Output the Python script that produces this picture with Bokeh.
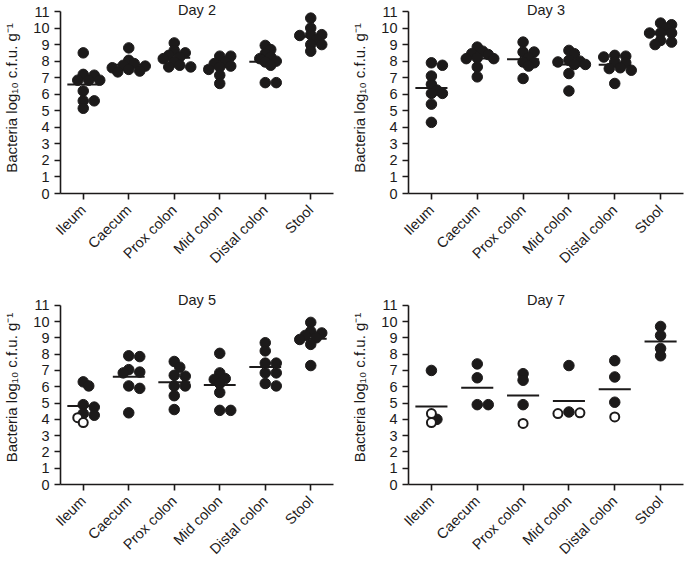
import math
import numpy as np
from bokeh.plotting import figure
from bokeh.models import Range1d, FixedTicker, Label
from bokeh.layouts import column, row
from bokeh.embed import file_html
from bokeh.resources import INLINE

categories = ["Ileum", "Caecum", "Prox colon", "Mid colon", "Distal colon", "Stool"]
y_ticks = list(range(0, 12))
y_label = "Bacteria log\u2081\u2080 c.f.u. g\u207b\u00b9"

# filled symbols (detected) per category
day2_filled = [
    [8.5, 7.2, 7.15, 6.85, 6.85, 6.85, 6.2, 5.6, 5.6, 5.15],
    [8.8, 8.05, 7.85, 7.75, 7.7, 7.6, 7.5, 7.4, 7.35],
    [9.1, 8.65, 8.5, 8.35, 8.25, 8.15, 7.95, 7.75, 7.65, 7.65],
    [8.3, 8.3, 7.95, 7.85, 7.7, 7.65, 7.5, 7.15, 6.65],
    [8.95, 8.7, 8.45, 8.25, 8.15, 8.0, 7.95, 7.75, 6.7, 6.7],
    [10.6, 10.0, 9.6, 9.6, 9.55, 9.3, 9.0, 9.0, 8.6],
]
day2_open = [[], [], [], [], [], []]

day3_filled = [
    [7.9, 7.75, 7.1, 6.6, 6.25, 6.05, 6.05, 5.4, 4.3],
    [8.85, 8.6, 8.45, 8.4, 8.2, 8.15, 8.15, 7.65, 7.05],
    [9.15, 8.55, 8.55, 8.2, 7.95, 7.9, 7.7, 6.95],
    [8.65, 8.45, 8.05, 8.0, 7.95, 7.8, 7.8, 7.25, 6.2],
    [8.35, 8.3, 8.25, 7.95, 7.9, 7.6, 7.55, 7.45, 6.65],
    [10.3, 10.2, 10.0, 9.7, 9.7, 9.7, 9.25, 9.15, 9.0],
]
day3_open = [[], [], [], [], [], []]

day5_filled = [
    [6.3, 6.05, 4.9, 4.75, 4.35, 4.25],
    [7.9, 7.85, 7.05, 6.85, 6.9, 6.05, 5.9, 4.4],
    [7.55, 7.2, 6.7, 6.65, 6.05, 6.05, 5.45, 4.6],
    [8.05, 6.85, 6.5, 6.45, 6.2, 5.65, 4.55, 4.55],
    [8.7, 8.2, 7.45, 7.45, 6.85, 6.85, 6.2, 6.05],
    [9.95, 9.4, 9.3, 9.15, 9.0, 8.9, 8.6, 7.3],
]
day5_open = [[4.1, 3.8], [], [], [], [], []]

day7_filled = [
    [7.0, 4.0],
    [7.4, 6.55, 4.9, 4.9],
    [6.8, 6.4, 4.9],
    [7.3, 4.45],
    [7.6, 6.6, 5.05],
    [9.7, 9.15, 8.35, 7.9],
]
day7_open = [[4.35, 3.8], [], [3.75], [4.4, 4.35], [4.15], []]

INK = "#1c1a1a"
FONT = "Liberation Sans"


def swarm(vals, pxx, pxy, step=5.5, dmin=6.0, row_dy=3.0, row_dx=10.5):
    placed = []
    offs = []

    def free(s, y):
        for px, py in placed:
            dx, dy = abs(s - px), abs(y - py)
            if dx * dx + dy * dy < dmin * dmin:
                return False
            if dy < row_dy and dx < row_dx:
                return False
        return True

    for v in vals:
        y = v * pxy
        best = 0.0
        for k in range(0, 30):
            cands = [0.0] if k == 0 else [step * k, -step * k]
            ok = next((s for s in cands if free(s, y)), None)
            if ok is not None:
                best = ok
                break
        placed.append((best, y))
        offs.append(best / pxx)
    return offs


def panel(title, filled, opened, width, height, bl, br, bt, bb, gap, title_off):
    fw = width - bl - br
    fh = height - bt - bb
    pxy = (fh - gap) / 11.0
    pxx = fw / 6.0
    y_top = 11 + gap / pxy

    p = figure(width=width, height=height, x_range=Range1d(0.5, 6.5), y_range=Range1d(0, y_top),
               output_backend="svg", toolbar_location=None, tools="",
               min_border_left=bl, min_border_right=br, min_border_top=bt, min_border_bottom=bb)
    p.outline_line_color = None
    p.xgrid.grid_line_color = None
    p.ygrid.grid_line_color = None
    p.background_fill_color = "white"
    p.border_fill_color = "white"

    fx, fy, ox, oy = [], [], [], []
    mx0, mx1, my = [], [], []
    for i, cat in enumerate(categories):
        pts = [(v, False) for v in filled[i]] + [(v, True) for v in opened[i]]
        pts.sort(key=lambda t: -t[0])
        offs = swarm([t[0] for t in pts], pxx, pxy)
        for (v, is_open), o in zip(pts, offs):
            if is_open:
                ox.append(i + 1 + o); oy.append(v)
            else:
                fx.append(i + 1 + o); fy.append(v)
        m = float(np.mean([t[0] for t in pts]))
        mx0.append(i + 1 - 0.35); mx1.append(i + 1 + 0.35); my.append(m)

    p.segment(x0=mx0, y0=my, x1=mx1, y1=my, line_color=INK, line_width=2)
    p.scatter(fx, fy, size=10.5, color=INK)
    if ox:
        p.scatter(ox, oy, size=9, fill_color="white", line_color=INK, line_width=2)

    p.xaxis.ticker = FixedTicker(ticks=[1, 2, 3, 4, 5, 6])
    p.xaxis.major_label_overrides = {i + 1: c for i, c in enumerate(categories)}
    p.xaxis.major_label_orientation = math.pi / 4
    p.yaxis.ticker = FixedTicker(ticks=y_ticks)
    p.yaxis.bounds = (0, 11)
    p.yaxis.axis_label = y_label
    for ax in (p.xaxis[0], p.yaxis[0]):
        ax.axis_line_color = INK
        ax.axis_line_width = 1.6
        ax.major_tick_line_color = INK
        ax.major_tick_line_width = 1.6
        ax.major_tick_out = 6
        ax.major_tick_in = 0
        ax.minor_tick_line_color = None
        ax.major_label_text_font = FONT
        ax.major_label_text_font_size = "14.5px"
        ax.major_label_text_color = INK
        ax.axis_label_text_font = FONT
        ax.axis_label_text_font_size = "15px"
        ax.axis_label_text_font_style = "normal"
        ax.axis_label_text_color = INK
    p.yaxis.major_label_standoff = 5
    p.yaxis.axis_label_standoff = 10
    p.xaxis.major_label_standoff = 8

    p.add_layout(Label(x=3.5, y=11, text=title, text_align="center", text_baseline="middle",
                       y_offset=title_off, text_font=FONT, text_font_size="14.5px", text_color=INK))
    return p


p1 = panel("Day 2", day2_filled, day2_open, 345, 285, 60, 12, 2, 92, 9, 2)
p2 = panel("Day 3", day3_filled, day3_open, 340, 285, 63, 2, 2, 92, 9, 2)
p3 = panel("Day 5", day5_filled, day5_open, 345, 280, 60, 12, 5, 78, 15, 5)
p4 = panel("Day 7", day7_filled, day7_open, 340, 280, 63, 2, 5, 78, 15, 5)

layout = column(row(p1, p2), row(p3, p4))
open("out.html", "w").write(file_html(layout, INLINE))
